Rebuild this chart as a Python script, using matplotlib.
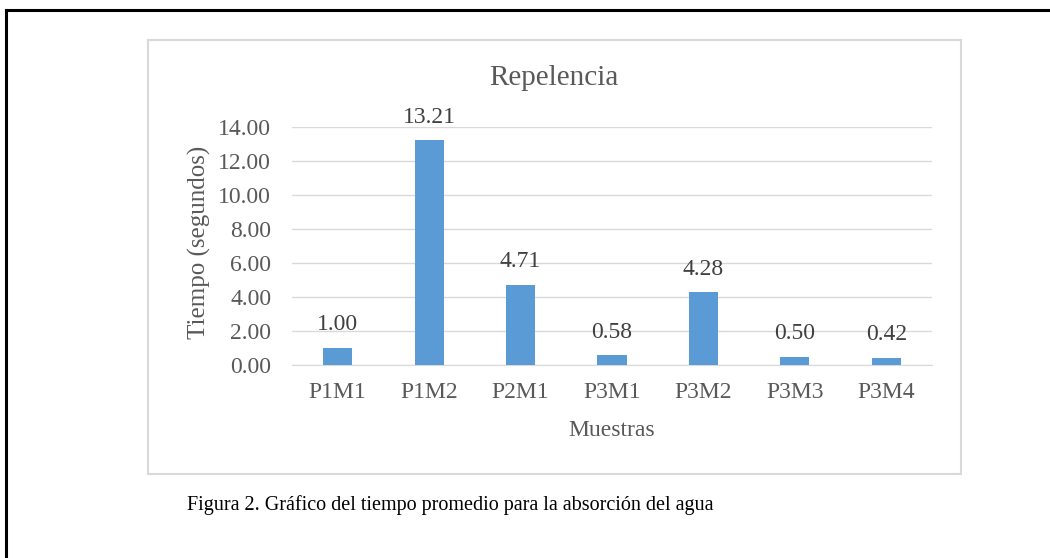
import numpy as np
import matplotlib.pyplot as plt
from matplotlib.lines import Line2D
from matplotlib.patches import Rectangle

# datos
muestras = ['P1M1', 'P1M2', 'P2M1', 'P3M1', 'P3M2', 'P3M3', 'P3M4']
tiempos = [1.00, 13.21, 4.71, 0.58, 4.28, 0.50, 0.42]
yticks = [0, 2, 4, 6, 8, 10, 12, 14]

W, H = 1050, 558
plt.rcParams['font.family'] = ['Liberation Serif', 'DejaVu Serif']

fig = plt.figure(figsize=(W / 100, H / 100), dpi=100)

# marco exterior (solo arriba e izquierda)
fig.add_artist(Line2D([6 / W, 6 / W], [0, 1 - 10 / H], color='black', lw=2.2))
fig.add_artist(Line2D([6 / W, 1], [1 - 10 / H, 1 - 10 / H], color='black', lw=2.2))

# recuadro del gráfico
fig.add_artist(Rectangle((148 / W, 1 - 474 / H), (961 - 148) / W, (474 - 40) / H,
                         fill=False, edgecolor='#d9d9d9', lw=1.5))

ax = fig.add_axes([292 / W, 1 - 365 / H, (932 - 292) / W, (365 - 127) / H])
x = np.arange(len(muestras))
bars = ax.bar(x, tiempos, width=0.32, color='#5b9bd5', zorder=3)

ax.set_xlim(-0.5, len(muestras) - 0.5)
ax.set_ylim(0, 14)
ax.set_yticks(yticks)
ax.set_yticklabels([f'{v:.2f}' for v in yticks])
ax.set_xticks(x)
ax.set_xticklabels(muestras)
ax.grid(axis='y', color='#d9d9d9', lw=1, zorder=0)
for s in ['top', 'right', 'left']:
    ax.spines[s].set_visible(False)
ax.spines['bottom'].set_color('#d9d9d9')
ax.tick_params(axis='both', length=0, labelsize=17, colors='#595959')
ax.tick_params(axis='x', pad=12)
ax.tick_params(axis='y', pad=15)

for b, v in zip(bars, tiempos):
    ax.annotate(f'{v:.2f}', (b.get_x() + b.get_width() / 2, v), xytext=(0, 9),
                textcoords='offset points', ha='center', va='bottom',
                fontsize=17, color='#404040')

fig.text(199 / W, 1 - 242 / H, 'Tiempo (segundos)', rotation=90, ha='center', va='center',
         fontsize=18, color='#595959')
fig.text(612 / W, 1 - 430 / H, 'Muestras', ha='center', va='center',
         fontsize=17, color='#595959')
fig.text(554 / W, 1 - 78 / H, 'Repelencia', ha='center', va='center',
         fontsize=21, color='#595959')
fig.text(450 / W, 1 - 505 / H, 'Figura 2. Gráfico del tiempo promedio para la absorción del agua',
         ha='center', va='center', fontsize=14.5, color='black')

fig.savefig('out.png', dpi=100, facecolor='white')
